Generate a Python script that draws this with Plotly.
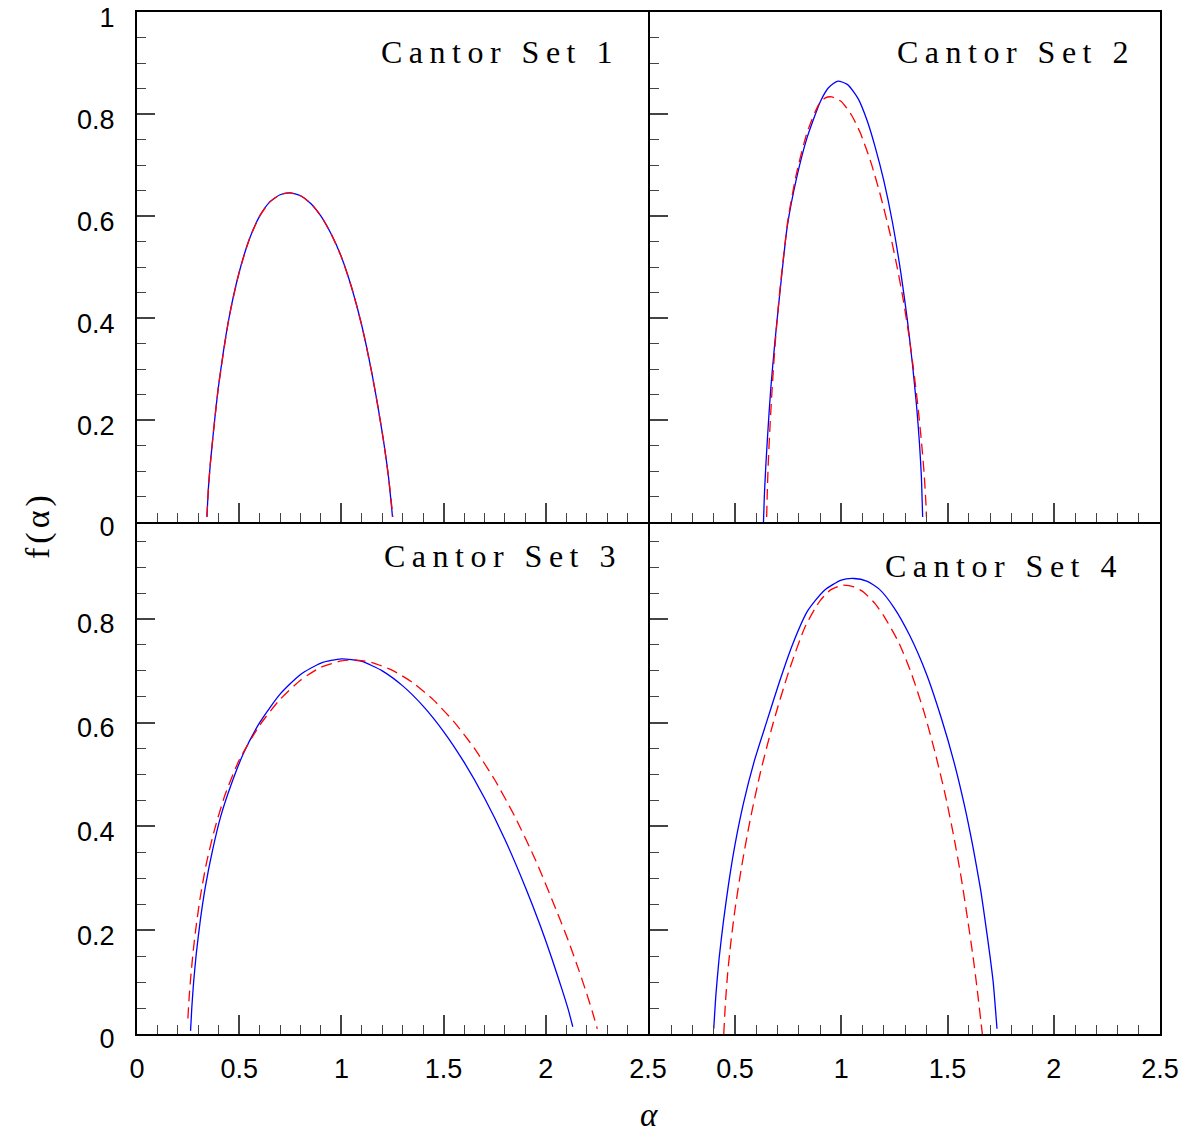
import plotly.graph_objects as go

# ---------------- data ----------------
# Panel 1: Cantor Set 1 (blue solid and red dashed practically coincide)
c1_blue_alpha = [0.342, 0.35, 0.36, 0.38, 0.40, 0.45, 0.50, 0.55, 0.60, 0.65, 0.70, 0.747,
                 0.80, 0.85, 0.90, 0.95, 1.00, 1.05, 1.10, 1.15, 1.20, 1.23, 1.25]
c1_blue_f = [0.01, 0.07, 0.12, 0.20, 0.27, 0.40, 0.49, 0.555, 0.60, 0.628, 0.642, 0.6456,
             0.640, 0.625, 0.60, 0.565, 0.52, 0.46, 0.385, 0.29, 0.175, 0.09, 0.01]
c1_red_alpha = [0.342, 0.35, 0.36, 0.38, 0.40, 0.45, 0.50, 0.55, 0.60, 0.65, 0.70, 0.747,
                0.80, 0.85, 0.90, 0.95, 1.00, 1.05, 1.10, 1.15, 1.20, 1.23, 1.252]
c1_red_f = [0.01, 0.07, 0.12, 0.20, 0.27, 0.40, 0.49, 0.555, 0.60, 0.628, 0.642, 0.6456,
            0.640, 0.625, 0.60, 0.565, 0.52, 0.46, 0.385, 0.29, 0.175, 0.09, 0.01]

# Panel 2: Cantor Set 2
c2_blue_alpha = [0.634, 0.638, 0.645, 0.655, 0.668, 0.687, 0.71, 0.746, 0.79, 0.84, 0.903,
                 0.94, 0.984, 1.03, 1.08, 1.122, 1.16, 1.20, 1.24, 1.28, 1.31, 1.335,
                 1.355, 1.368, 1.377, 1.383]
c2_blue_f = [0.0, 0.05, 0.11, 0.18, 0.26, 0.35, 0.445, 0.58, 0.675, 0.755, 0.826,
             0.852, 0.865, 0.858, 0.83, 0.787, 0.735, 0.67, 0.59, 0.49, 0.40, 0.31,
             0.225, 0.155, 0.09, 0.01]
c2_red_alpha = [0.649, 0.652, 0.657, 0.665, 0.676, 0.69, 0.71, 0.75, 0.79, 0.84, 0.895,
                0.925, 0.955, 1.00, 1.05, 1.09, 1.14, 1.185, 1.23, 1.263, 1.29, 1.317,
                1.34, 1.36, 1.378, 1.39, 1.398, 1.401]
c2_red_f = [0.01, 0.06, 0.12, 0.19, 0.27, 0.355, 0.45, 0.595, 0.685, 0.765, 0.82,
            0.832, 0.834, 0.825, 0.797, 0.763, 0.705, 0.64, 0.565, 0.50, 0.44, 0.37,
            0.30, 0.23, 0.155, 0.095, 0.04, 0.01]

# Panel 3: Cantor Set 3
c3_blue_alpha = [0.262, 0.268, 0.277, 0.29, 0.31, 0.335, 0.37, 0.41, 0.46, 0.52, 0.60, 0.70,
                 0.80, 0.90, 1.00, 1.10, 1.20, 1.30, 1.40, 1.50, 1.60, 1.70, 1.80, 1.90,
                 1.97, 2.03, 2.08, 2.11, 2.132]
c3_blue_f = [0.006, 0.05, 0.10, 0.155, 0.22, 0.285, 0.355, 0.42, 0.48, 0.54, 0.60, 0.655,
             0.693, 0.715, 0.723, 0.718, 0.70, 0.671, 0.632, 0.583, 0.524, 0.455, 0.375, 0.283,
             0.212, 0.145, 0.085, 0.047, 0.014]
c3_red_alpha = [0.249, 0.255, 0.263, 0.275, 0.29, 0.31, 0.34, 0.38, 0.43, 0.50, 0.60, 0.70,
                0.80, 0.90, 1.00, 1.065, 1.15, 1.25, 1.35, 1.45, 1.55, 1.65, 1.75, 1.85,
                1.95, 2.05, 2.11, 2.16, 2.20, 2.23, 2.252]
c3_red_f = [0.03, 0.07, 0.11, 0.16, 0.21, 0.265, 0.33, 0.395, 0.46, 0.528, 0.595, 0.645,
            0.682, 0.707, 0.719, 0.721, 0.716, 0.701, 0.677, 0.644, 0.602, 0.551, 0.49, 0.418,
            0.335, 0.24, 0.18, 0.125, 0.078, 0.04, 0.01]

# Panel 4: Cantor Set 4
c4_blue_alpha = [0.40, 0.41, 0.425, 0.445, 0.47, 0.50, 0.54, 0.59, 0.65, 0.71, 0.77, 0.841,
                 0.92, 1.00, 1.06, 1.12, 1.18, 1.248, 1.32, 1.40, 1.47, 1.53, 1.58, 1.62,
                 1.655, 1.68, 1.70, 1.715, 1.733]
c4_blue_f = [0.01, 0.075, 0.145, 0.215, 0.29, 0.365, 0.445, 0.525, 0.603, 0.68, 0.75, 0.815,
             0.855, 0.875, 0.878, 0.873, 0.857, 0.822, 0.77, 0.695, 0.61, 0.525, 0.44, 0.36,
             0.28, 0.21, 0.15, 0.10, 0.01]
c4_red_alpha = [0.447, 0.455, 0.465, 0.48, 0.50, 0.53, 0.57, 0.62, 0.68, 0.754, 0.83, 0.90,
                0.95, 1.005, 1.06, 1.107, 1.16, 1.20, 1.27, 1.33, 1.39, 1.44, 1.49, 1.53,
                1.565, 1.595, 1.62, 1.64, 1.664]
c4_red_f = [0.0, 0.06, 0.115, 0.175, 0.24, 0.32, 0.41, 0.505, 0.60, 0.70, 0.785, 0.835,
            0.856, 0.865, 0.862, 0.851, 0.829, 0.806, 0.755, 0.695, 0.62, 0.545, 0.46, 0.38,
            0.30, 0.22, 0.15, 0.085, 0.0]

panel_titles = ["Cantor Set 1", "Cantor Set 2", "Cantor Set 3", "Cantor Set 4"]
x_tick_vals = [0, 0.5, 1, 1.5, 2, 2.5]
y_tick_vals = [0, 0.2, 0.4, 0.6, 0.8, 1]

# ---------------- figure ----------------
fig = go.Figure()

panels = [
    ("x", "y", c1_blue_alpha, c1_blue_f, c1_red_alpha, c1_red_f),
    ("x2", "y2", c2_blue_alpha, c2_blue_f, c2_red_alpha, c2_red_f),
    ("x3", "y3", c3_blue_alpha, c3_blue_f, c3_red_alpha, c3_red_f),
    ("x4", "y4", c4_blue_alpha, c4_blue_f, c4_red_alpha, c4_red_f),
]
for xa, ya, ba, bf, ra, rf in panels:
    fig.add_trace(go.Scatter(x=ba, y=bf, xaxis=xa, yaxis=ya, mode="lines",
                             line=dict(color="#0000ff", width=1.3, shape="spline", smoothing=0.6),
                             showlegend=False, hoverinfo="skip"))
    fig.add_trace(go.Scatter(x=ra, y=rf, xaxis=xa, yaxis=ya, mode="lines",
                             line=dict(color="#ff0000", width=1.3, dash="11px,6px",
                                       shape="spline", smoothing=0.6),
                             showlegend=False, hoverinfo="skip"))

tick_font = dict(family="Liberation Sans, Arial, sans-serif", size=27, color="black")

W = 1180 - 137 - 20   # plot area width in px
H = 1137 - 12 - 103   # plot area height in px
xl_dom = [0, 511 / W]
xr_dom = [513 / W, 1]
yb_dom = [0, 510 / H]
yt_dom = [512 / H, 1]


def xaxis_style(domain, rng, show_labels, anchor):
    return dict(domain=domain, range=rng, anchor=anchor, showgrid=False, zeroline=False,
                automargin=False, ticklabeloverflow="allow",
                showline=True, mirror=True, linecolor="black", linewidth=2,
                ticks="inside", ticklen=19, tickwidth=1.5, tickcolor="#444",
                tickmode="array", tickvals=x_tick_vals, ticklabelstandoff=10,
                showticklabels=show_labels, tickfont=tick_font,
                minor=dict(ticks="inside", ticklen=9, tickwidth=1.2, tickcolor="#444",
                           dtick=0.1, tick0=0, showgrid=False))


def yaxis_style(domain, rng, show_labels, anchor):
    return dict(domain=domain, range=rng, anchor=anchor, showgrid=False, zeroline=False,
                automargin=False, ticklabeloverflow="allow",
                showline=True, mirror=True, linecolor="black", linewidth=2,
                ticks="inside", ticklen=18, tickwidth=1.5, tickcolor="#444",
                tickmode="array", tickvals=y_tick_vals, ticklabelstandoff=15,
                ticklabelshift=5,
                showticklabels=show_labels, tickfont=tick_font,
                minor=dict(ticks="inside", ticklen=9, tickwidth=1.2, tickcolor="#444",
                           dtick=0.05, tick0=0, showgrid=False))


fig.update_layout(
    width=1180, height=1137,
    margin=dict(l=137, r=20, t=12, b=103, autoexpand=False),
    paper_bgcolor="white", plot_bgcolor="white",
    xaxis=xaxis_style(xl_dom, [0, 2.5], False, "y"),
    yaxis=yaxis_style(yt_dom, [0, 1.0005], True, "x"),
    xaxis2=xaxis_style(xr_dom, [0.1, 2.5], False, "y2"),
    yaxis2=yaxis_style(yt_dom, [0, 1.0005], False, "x2"),
    xaxis3=xaxis_style(xl_dom, [0, 2.5], True, "y3"),
    yaxis3=yaxis_style(yb_dom, [0, 0.983], True, "x3"),
    xaxis4=xaxis_style(xr_dom, [0.1, 2.5], True, "y4"),
    yaxis4=yaxis_style(yb_dom, [0, 0.983], False, "x4"),
)

title_font = dict(family="Liberation Serif, Times New Roman, serif", size=32, color="black")
title_pos = [("x domain", "y domain", 0.948, 0.922),
             ("x2 domain", "y2 domain", 0.955, 0.922),
             ("x3 domain", "y3 domain", 0.954, 0.937),
             ("x4 domain", "y4 domain", 0.932, 0.918)]
for (xr, yr, xx, yy), t in zip(title_pos, panel_titles):
    fig.add_annotation(xref=xr, yref=yr, x=xx, y=yy, xanchor="right", yanchor="middle",
                       text='<span style="letter-spacing:6.5px">' + t + '</span>',
                       showarrow=False, font=title_font)

# x-axis title (alpha); placed so its text box stays inside the page
fig.add_annotation(xref="paper", yref="paper", x=(649 - 137) / W, y=(1034 - 1115) / H,
                   xanchor="center", yanchor="middle", text="α",
                   showarrow=False, borderpad=0,
                   font=dict(family="Liberation Serif, Times New Roman, serif", size=33,
                             color="black", style="italic"))
fig.add_annotation(xref="paper", yref="paper", x=-0.0968, y=0.498, xanchor="center",
                   yanchor="middle", textangle=-90,
                   text='<span style="letter-spacing:4px">f(α)</span>', showarrow=False,
                   font=dict(family="Liberation Serif, Times New Roman, serif", size=34, color="black"))

fig.write_html("out.html")
